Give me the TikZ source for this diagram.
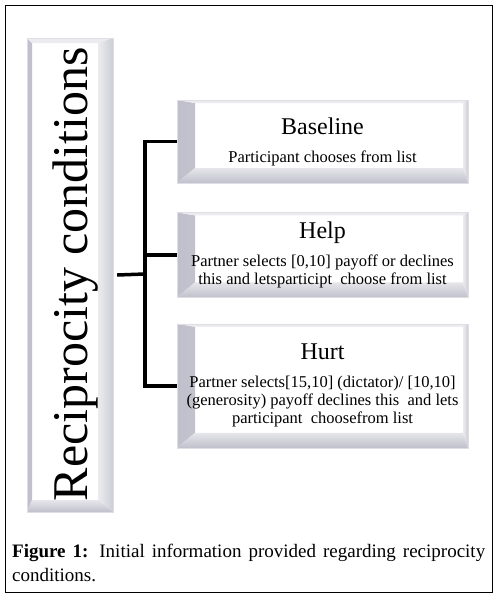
\documentclass[tikz,border=0pt]{standalone}
\usepackage{fontspec}
\setmainfont{Liberation Serif}
\usetikzlibrary{positioning}

\definecolor{bevelgray}{RGB}{192,192,204}
\definecolor{rimgray}{RGB}{222,222,228}

% bevel round a node: name, left, top, right, bottom widths (pt)
\newcommand{\bevel}[5]{%
  \shade[left color=bevelgray, right color=bevelgray!35]
    (#1.north west) -- ([shift={(#2pt,-#3pt)}]#1.north west)
    -- ([shift={(#2pt,#5pt)}]#1.south west) -- (#1.south west) -- cycle;
  \fill[bevelgray!30]
    (#1.north west) -- (#1.north east) -- ([shift={(-#4pt,-#3pt)}]#1.north east)
    -- ([shift={(#2pt,-#3pt)}]#1.north west) -- cycle;
  \shade[left color=bevelgray!30, right color=bevelgray!80]
    (#1.north east) -- (#1.south east) -- ([shift={(-#4pt,#5pt)}]#1.south east)
    -- ([shift={(-#4pt,-#3pt)}]#1.north east) -- cycle;
  \shade[top color=bevelgray!40, bottom color=bevelgray]
    (#1.south west) -- (#1.south east) -- ([shift={(-#4pt,#5pt)}]#1.south east)
    -- ([shift={(#2pt,#5pt)}]#1.south west) -- cycle;
}
\newcommand{\condtitle}[1]{{\fontsize{24}{28}\selectfont #1}\\[10pt]}

\begin{document}
\begin{tikzpicture}[x=1pt, y=-1pt,
  bevelbox/.style n args = {4}{draw=rimgray, fill=white,
                   path picture={\bevel{path picture bounding box}{#1}{#2}{#3}{#4}}},
  cond/.style   = {bevelbox={18}{3}{5}{15}, minimum width=291pt, inner sep=0pt,
                   align=center, font=\fontsize{16.5}{18}\selectfont},
  branch/.style = {draw, line width=3.5pt},
  node distance=28pt]

  \useasboundingbox (0,0) rectangle (500,600);
  \draw[line width=1pt] (5,5) rectangle (492,592);

  % vertical box on the left
  \node[bevelbox={5}{5}{15}{12}, minimum width=86pt, minimum height=474pt] (rcbox) at (70,275) {};
  \node[rotate=90, anchor=base, font=\fontsize{50}{50}\selectfont] (rc) at (87,274) {Reciprocity conditions};

  % the three conditions
  \node[cond, minimum height=83pt] (base) at (322.5,141.5)
    {\condtitle{Baseline}Participant chooses from list};
  \node[cond, minimum height=85pt, below=29pt of base] (help)
    {\condtitle{Help}Partner selects [0,10] payoff or declines\\this and letsparticipt\ \ choose from list};
  \node[cond, minimum height=124pt, below=26pt of help] (hurt)
    {\condtitle{Hurt}Partner selects[15,10] (dictator)/ [10,10]\\(generosity) payoff declines this\ \ and lets\\participant\ \ choosefrom list};

  % bracket
  \coordinate (fork) at (145,274);
  \draw[branch] ([xshift=4pt]rcbox.east) -- (fork);
  \foreach \c in {base,help,hurt}
    \draw[branch] (fork) |- (\c.west);

  % caption
  \node[anchor=north west, text width=473pt, align=justify, inner sep=0pt,
        font=\fontsize{19}{24}\selectfont] (cap) at (12,544)
    {\textbf{Figure 1:} Initial information provided regarding reciprocity\linebreak conditions.};
\end{tikzpicture}
\end{document}
